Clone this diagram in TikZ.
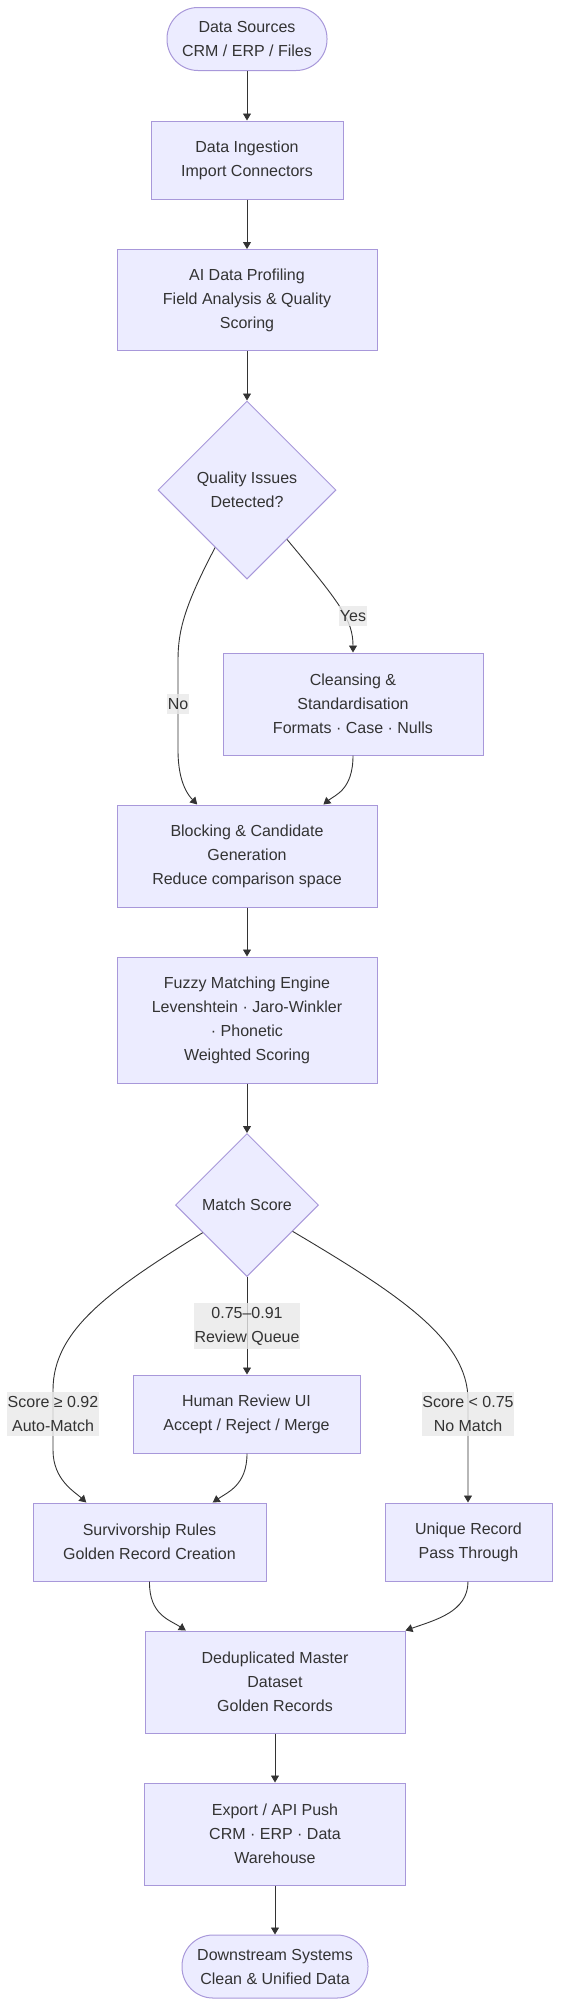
\documentclass[tikz,border=0pt]{standalone}
\usepackage{fontspec}
\setmainfont{Liberation Sans}
\usetikzlibrary{shapes.geometric,arrows.meta}

\definecolor{boxfill}{HTML}{ECECFF}
\definecolor{boxline}{HTML}{A898DA}
\definecolor{inkgray}{HTML}{333333}
\definecolor{labelbg}{HTML}{E8E8E8}

\begin{document}
\begin{tikzpicture}[x=1pt, y=-1pt,
  every node/.style={font=\fontsize{16}{24}\selectfont, text=inkgray, align=center},
  stepbox/.style={rectangle, draw=boxline, fill=boxfill, line width=1pt, inner sep=0pt},
  endbox/.style={stepbox, rounded corners=31pt},
  choice/.style={diamond, draw=boxline, fill=boxfill, line width=1pt, inner sep=0pt},
  flow/.style={draw=inkgray, line width=0.9pt, -{Triangle[length=7pt,width=8pt]}},
  edgetext/.style={fill=labelbg, fill opacity=0.8, text opacity=1, inner xsep=0.5pt, inner ysep=4pt}]

\useasboundingbox  (0,0) rectangle (560,2006);

\node  [endbox, minimum width=160pt, minimum height=63pt]  (src)  at  (247, 39)  {Data Sources\\CRM / ERP / Files};
\node  [stepbox, minimum width=192pt, minimum height=78pt]  (ingest)  at  (247, 160)  {Data Ingestion\\Import Connectors};
\node  [stepbox, minimum width=260pt, minimum height=101pt]  (profile)  at  (247, 300)  {AI Data Profiling\\Field Analysis \& Quality\\Scoring};
\node  [choice, minimum width=178pt, minimum height=178pt]  (quality)  at  (247, 490)  {Quality Issues\\Detected?};
\node  [stepbox, minimum width=260pt, minimum height=102pt]  (cleanse)  at  (353, 704)  {Cleansing \&\\Standardisation\\Formats · Case · Nulls};
\node  [stepbox, minimum width=260pt, minimum height=102pt]  (block)  at  (247, 856)  {Blocking \& Candidate\\Generation\\Reduce comparison space};
\node  [stepbox, minimum width=260pt, minimum height=126pt]  (fuzzy)  at  (247, 1020)  {Fuzzy Matching Engine\\Levenshtein · Jaro-Winkler\\· Phonetic\\Weighted Scoring};
\node  [choice, minimum width=143pt, minimum height=143pt]  (match)  at  (247, 1205)  {Match Score};

% three ways out of the score
\node  [stepbox, minimum width=227pt, minimum height=78pt]  (review)  at  (246.5, 1414)  {Human Review UI\\Accept / Reject / Merge};
\node  [stepbox, minimum width=233pt, minimum height=78pt]  (surv)  at  (149.5, 1542)  {Survivorship Rules\\Golden Record Creation};
\node  [stepbox, minimum width=167pt, minimum height=78pt]  (unique)  at  (468.5, 1542)  {Unique Record\\Pass Through};

\node  [stepbox, minimum width=260pt, minimum height=102pt]  (dedup)  at  (275, 1682)  {Deduplicated Master\\Dataset\\Golden Records};
\node  [stepbox, minimum width=261pt, minimum height=102pt]  (export)  at  (275, 1834)  {Export / API Push\\CRM · ERP · Data\\Warehouse};
\node  [endbox, minimum width=186pt, minimum height=63pt]  (down)  at  (275, 1966.5)  {Downstream Systems\\Clean \& Unified Data};

\draw   [flow]   (src) -- (ingest);
\draw   [flow]   (ingest) -- (profile);
\draw   [flow]   (profile) -- (quality);
\draw   [flow]   (quality.-51) .. controls (340,603) and (353,620) .. (cleanse.north);
\draw   [flow]   (quality.-119) .. controls (185,605) and (178,630) .. (178,660) -- (178,750) .. controls (178,785) and (190,797) .. (block.134);
\draw   [flow]   (cleanse.south) .. controls (353,790) and (335,795) .. (block.34);
\draw   [flow]   (block) -- (fuzzy);
\draw   [flow]   (fuzzy) -- (match);

% Second row
\draw   [flow]   (match.-148) .. controls (110,1290) and (53,1330) .. (53,1390) -- (53,1450) .. controls (53,1480) and (75,1492) .. (surv.148);
\draw   [flow]   (match.south) -- (review.north -| match.south);
\draw   [flow]   (match.-30) .. controls (400,1295) and (468,1340) .. (468,1400) -- (unique.north -| 468,0);
\draw   [flow]   (review.south -| match.south) .. controls (247,1485) and (228,1492) .. (surv.32);
\draw   [flow]   (surv.south) .. controls (149,1615) and (170,1620) .. (dedup.150);
\draw   [flow]   (unique.south -| 468,0) .. controls (468,1612) and (435,1620) .. (dedup.north east);
\draw   [flow]   (dedup) -- (export);
\draw   [flow]   (export) -- (down);

% -------- edge labels -----------
\node  [edgetext]  (lyes)  at  (353, 616)  {Yes};
\node  [edgetext]  (lno)  at  (178, 704)  {No};
\node  [edgetext]  (lqueue)  at  (247, 1326)  {0.75–0.91\\Review Queue};
\node  [edgetext]  (lauto)  at  (53, 1414)  {Score ≥ 0.92\\Auto-Match};
\node  [edgetext]  (lnomatch)  at  (468, 1414)  {Score < 0.75\\No Match};
\end{tikzpicture}
\end{document}
